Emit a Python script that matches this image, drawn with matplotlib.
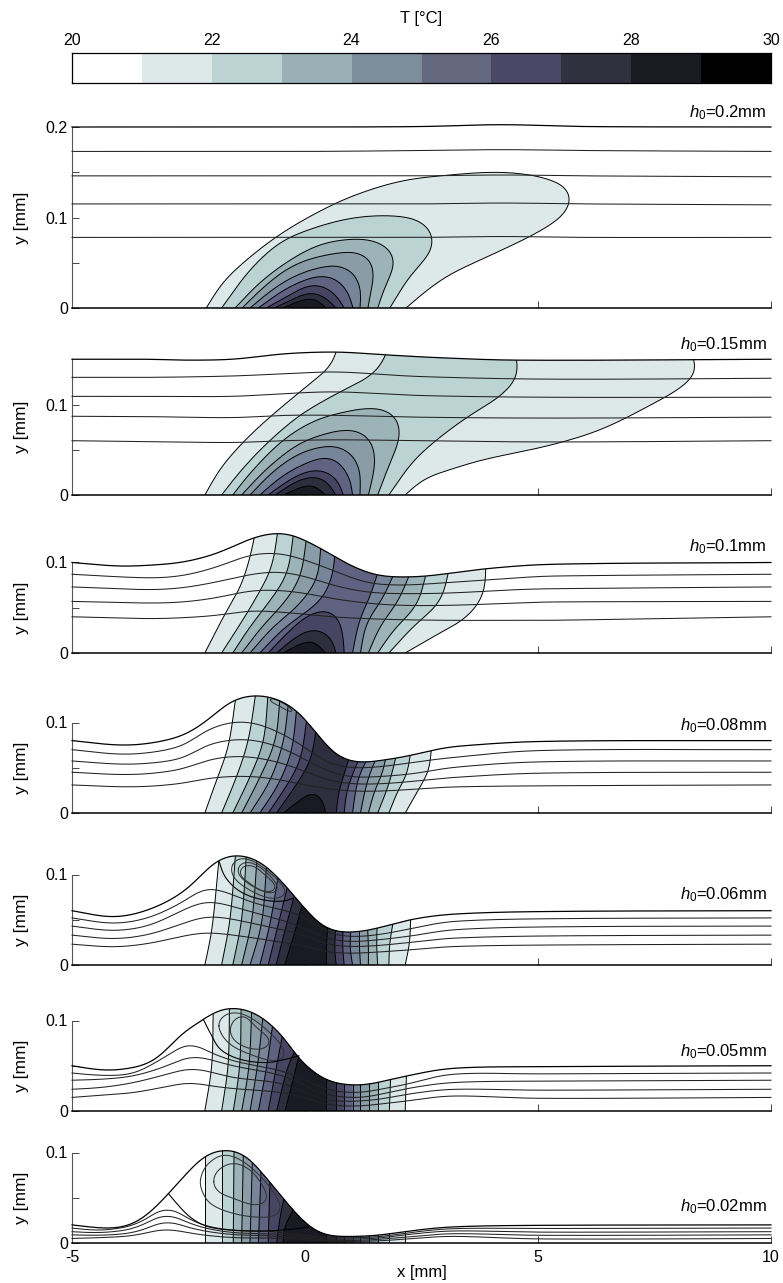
import numpy as np
import matplotlib
matplotlib.use("Agg")
import matplotlib.pyplot as plt
from matplotlib.patches import Polygon
from matplotlib.colors import ListedColormap

plt.rcParams['font.family'] = ['Liberation Sans', 'DejaVu Sans']
plt.rcParams['mathtext.fontset'] = 'custom'
plt.rcParams['mathtext.rm'] = 'Liberation Sans'
plt.rcParams['mathtext.it'] = 'Liberation Sans:italic'

W, H = 783, 1283
LEVELS = list(range(20, 31))
BAND_COLORS = ['#ffffff', '#dde9e8', '#bcd3d4', '#9ab0b6', '#7d8d9c', '#63687f', '#4b4865', '#30303f', '#1a1a22', '#000000']
FILL_COLORS = ['#dde9e8', '#bcd3d4', '#9cb3b8', '#8a9ca6', '#77859a', '#5f6280', '#474563', '#2e2e3e', '#1a1a24']
CBAR_TICKS = [20, 22, 24, 26, 28, 30]
LABELS = ['0.2', '0.15', '0.1', '0.08', '0.06', '0.05', '0.02']

# ---------- panel h0=0.2 ----------
P1_SX = [-5, 0, 2.5, 4.2, 6, 10]
P1_SY = [.2, .2, .2005, .2026, .2005, .2]
P1_LX = [-5, 0, 2.5, 4.2, 6, 10]
P1_LINES = [[.173, .173, .174, .175, .174, .173], [.146, .146, .146, .147, .146, .145],
            [.115, .115, .115, .116, .115, .114], [.078, .078, .078, .079, .078, .078]]
P1_ISO = [
    [(-2.12,0),(-1.77,.0276),(-1.29,.0516),(-.61,.0788),(.11,.1013),(.97,.1227),(2.04,.14),(3.11,.147),(4.18,.15),(5.04,.145),(5.58,.134),(5.71,.123),(5.58,.105),(5.04,.085),(4.18,.063),(3.11,.037),(2.58,.018),(2.17,0)],
    [(-1.79,0),(-1.18,.042),(-.54,.072),(.11,.087),(.97,.099),(1.82,.102),(2.47,.096),(2.75,.079),(2.68,.061),(2.25,.035),(1.82,0)],
    [(-1.5,0),(-.97,.028),(-.32,.053),(.32,.07),(.97,.076),(1.5,.074),(1.88,.061),(1.91,.046),(1.72,.024),(1.56,0)],
    [(-1.35,0),(-.8,.027),(-.25,.047),(.4,.058),(1.18,.061),(1.47,.046),(1.42,.02),(1.35,0)],
    [(-1.18,0),(-.6,.024),(0,.04),(.75,.047),(1.1,.035),(1.2,.02),(1.18,0)],
    [(-1.0,0),(-.45,.02),(0,.031),(.43,.036),(.8,.027),(.97,.012),(1.03,0)],
    [(-.83,0),(-.3,.015),(.16,.026),(.6,.018),(.84,0)],
    [(-.66,0),(-.2,.011),(.11,.017),(.45,.011),(.66,0)],
    [(-.47,0),(-.1,.008),(.1,.01),(.3,.007),(.45,0)],
]

# ---------- panel h0=0.15 ----------
P2_SX = [-5, -3.33, -2.61, -1.54, -.46, .68, 1.68, 2.75, 4.54, 10]
P2_SY = [.15, .15, .149, .15, .156, .158, .155, .152, .149, .15]
P2_LX = [-5, -3.33, -1.54, -.46, .68, 2.4, 5.26, 10]
P2_LINES = [[.13, .13, .1315, .134, .136, .131, .128, .129], [.109, .109, .109, .112, .114, .11, .108, .108],
            [.087, .0866, .0855, .088, .088, .086, .085, .086], [.06, .059, .058, .06, .061, .06, .0586, .06]]
P2_ISO = [
    ([(-2.15,0),(-1.79,.031),(-1.18,.066),(-.46,.099),(.25,.129),(.57,.144),(.69,.162)],
     [(2.15,0),(2.54,.017),(3.11,.028),(3.83,.039),(5.26,.055),(6.33,.072),(7.4,.099),(8.15,.122),(8.41,.14),(8.3,.155)]),
    ([(-1.79,0),(-1.39,.026),(-.82,.057),(-.11,.088),(.68,.112),(1.32,.129),(1.61,.142),(1.77,.16)],
     [(1.8,0),(2.32,.037),(2.9,.064),(3.54,.088),(4.18,.109),(4.51,.127),(4.58,.138),(4.53,.152)]),
    [(-1.55,0),(-1.18,.024),(-.46,.061),(.25,.083),(.97,.093),(1.39,.096),(1.82,.092),(2.02,.079),(2.02,.061),(1.82,.035),(1.56,0)],
    [(-1.36,0),(-.82,.029),(-.11,.057),(.61,.07),(.97,.072),(1.32,.066),(1.5,.046),(1.47,.024),(1.36,0)],
    [(-1.18,0),(-.68,.026),(-.11,.046),(.46,.054),(.82,.052),(1.14,.035),(1.19,.017),(1.18,0)],
    [(-.97,0),(-.46,.022),(.11,.037),(.54,.042),(.82,.031),(1.0,.013),(1.02,0)],
    [(-.79,0),(-.32,.017),(.11,.027),(.46,.026),(.72,.015),(.82,0)],
    [(-.64,0),(-.18,.015),(.18,.02),(.46,.015),(.66,0)],
    [(-.46,0),(-.11,.008),(.18,.01),(.44,0)],
]

# ---------- panel h0=0.1 ----------
P3_SX = [-5, -4, -3.33, -2.61, -1.9, -1.07, -.57, -.25, .32, .97, 1.54, 2.04, 2.61, 3.86, 5.26, 10]
P3_SY = [.1, .096, .097, .1005, .11, .128, .1326, .13, .116, .097, .086, .084, .085, .093, .098, .1]
P3_LX = [-5, -3.33, -2.61, -1.9, -1.18, -.57, .04, .61, 1.32, 2.04, 3.11, 4.54, 5.26, 10]
P3_LINES = [[.087, .083, .0857, .095, .108, .11, .102, .091, .078, .075, .078, .083, .085, .087],
            [.073, .07, .0722, .0785, .0866, .0895, .084, .0748, .0674, .0656, .0663, .07, .071, .073],
            [.057, .0552, .0564, .0611, .0685, .0692, .0656, .06, .0552, .0527, .0527, .0552, .0564, .057],
            [.04, .038, .039, .0416, .0464, .0453, .0427, .0398, .038, .0368, .0361, .0361, .0361, .04]]
P3_ISO = [
    ([(-2.15,0),(-1.72,.043),(-1.39,.073),(-1.18,.106),(-1.06,.135)], [(2.15,0),(2.75,.018),(3.47,.04),(3.83,.066),(3.88,.1)]),
    ([(-1.79,0),(-1.39,.032),(-1.04,.062),(-.72,.095),(-.57,.14)], [(1.8,0),(2.32,.029),(2.9,.058),(3.1,.095)]),
    ([(-1.55,0),(-1.18,.029),(-.75,.058),(-.39,.088),(-.24,.135)], [(1.56,0),(1.9,.025),(2.4,.054),(2.61,.09)]),
    ([(-1.36,0),(-.89,.031),(-.46,.055),(-.11,.084),(.04,.13)], [(1.36,0),(1.61,.029),(2.0,.058),(2.27,.09)]),
    ([(-1.18,0),(-.68,.029),(-.18,.051),(.25,.082),(.34,.12)], [(1.19,0),(1.32,.032),(1.68,.062),(1.93,.09)]),
    ([(-.97,0),(-.46,.027),(-.04,.043),(.39,.062),(.61,.091),(.64,.11)], [(1.02,0),(1.17,.036),(1.39,.062),(1.57,.09)]),
    [(-.79,0),(-.32,.025),(.11,.043),(.46,.047),(.68,.042),(.82,.018),(.84,0)],
    [(-.61,0),(-.18,.018),(.18,.026),(.46,.021),(.61,.012),(.66,0)],
    [(-.46,0),(-.11,.0096),(.18,.012),(.44,0)],
]

# ---------- panel h0=0.08 ----------
P4_SX = [-5, -4, -3.33, -2.61, -2.11, -1.54, -1.04, -.61, -.18, .25, .68, 1.11, 1.54, 2.11, 2.72, 3.11, 5, 10]
P4_SY = [.08, .075, .077, .086, .102, .1245, .13, .126, .113, .088, .064, .056, .0575, .062, .069, .073, .079, .08]
P4_LX = [-5, -4, -3.33, -2.61, -2.11, -1.54, -1.04, -.46, .04, .46, .97, 1.68, 2.4, 3.11, 5, 10]
P4_LINES = [[.07, .065, .0667, .0748, .0913, .1005, .0987, .0866, .071, .0564, .05, .0515, .0565, .061, .069, .07],
            [.0575, .054, .055, .061, .0748, .081, .08, .071, .058, .047, .04, .0405, .044, .05, .0565, .0575],
            [.045, .0425, .0435, .049, .058, .0626, .061, .0545, .045, .037, .0324, .0324, .0354, .039, .044, .045],
            [.031, .029, .0295, .033, .038, .0405, .04, .036, .0306, .027, .0243, .0243, .0265, .0287, .03, .031]]
P4_ISO = [
    ([(-2.15,0),(-1.9,.036),(-1.65,.073),(-1.48,.13)], [(2.15,0),(2.47,.029),(2.65,.047),(2.72,.075)]),
    ([(-1.79,0),(-1.47,.04),(-1.22,.08),(-1.05,.135)], [(1.8,0),(2.0,.025),(2.18,.043),(2.27,.068)]),
    ([(-1.55,0),(-1.18,.04),(-.89,.08),(-.79,.135)], [(1.56,0),(1.75,.025),(1.86,.043),(1.97,.066)]),
    ([(-1.36,0),(-1.0,.036),(-.64,.08),(-.54,.125)], [(1.36,0),(1.5,.025),(1.65,.043),(1.74,.062)]),
    ([(-1.18,0),(-.75,.036),(-.46,.08),(-.36,.12)], [(1.19,0),(1.29,.025),(1.39,.043),(1.54,.062)]),
    ([(-.97,0),(-.57,.032),(-.29,.069),(-.18,.115)], [(1.02,0),(1.09,.025),(1.18,.043),(1.36,.062)]),
    ([(-.79,0),(-.46,.025),(-.11,.058),(.04,.105)], [(.84,0),(.89,.021),(1.0,.04),(1.18,.062)]),
    ([(-.61,0),(-.18,.032),(.11,.058),(.25,.095)], [(.67,0),(.72,.021),(.82,.04),(.97,.064)]),
    [(-.46,0),(-.11,.014),(.18,.022),(.39,.012),(.44,0)],
]
P4_LOOPS = [[(-.79,.126),(-.57,.119),(-.25,.111),(-.39,.119),(-.61,.125)]]

# ---------- panel h0=0.06 ----------
P5_SX = [-5, -4.1, -3.33, -2.61, -1.86, -1.43, -.97, -.46, -.04, .46, .97, 1.54, 2.25, 3.11, 5, 10]
P5_SY = [.06, .053, .0615, .081, .116, .1215, .114, .09, .0645, .0405, .036, .0405, .05, .056, .059, .06]
P5_LX = [-5, -4.1, -3.33, -2.61, -2.11, -1.54, -1.04, -.46, .04, .46, .97, 1.68, 2.4, 3.11, 5, 10]
P5_LINES = [[.052, .046, .0527, .07, .0847, .0773, .0674, .0608, .0516, .0368, .0313, .0343, .0416, .0479, .051, .052],
            [.043, .038, .044, .0608, .07, .0645, .057, .049, .0394, .0295, .0258, .0284, .033, .0387, .042, .043],
            [.033, .029, .034, .046, .0534, .0505, .045, .0387, .032, .0232, .0203, .022, .0258, .0295, .032, .033],
            [.023, .02, .024, .032, .0357, .033, .0295, .0247, .0203, .0147, .0129, .0147, .0173, .0203, .022, .023]]
P5_ISO = [
    ([(-2.15,0),(-2.0,.0387),(-1.84,.12)], [(2.15,0),(2.24,.024),(2.27,.055)]),
    ([(-1.79,0),(-1.61,.05),(-1.48,.13)], [(1.8,0),(1.82,.024),(1.9,.05)]),
    ([(-1.55,0),(-1.36,.05),(-1.25,.13)], [(1.56,0),(1.54,.02),(1.55,.05)]),
    ([(-1.36,0),(-1.14,.05),(-1.02,.125)], [(1.36,0),(1.36,.02),(1.34,.045)]),
    ([(-1.18,0),(-.93,.046),(-.82,.115)], [(1.19,0),(1.17,.02),(1.17,.045)]),
    ([(-.97,0),(-.75,.046),(-.57,.1)], [(1.02,0),(.97,.02),(.99,.045)]),
    ([(-.79,0),(-.57,.046),(-.36,.09)], [(.84,0),(.81,.02),(.82,.045)]),
    ([(-.62,0),(-.39,.046),(-.21,.08)], [(.67,0),(.64,.0166),(.66,.045)]),
    ([(-.44,0),(-.25,.031),(-.04,.07)], [(.46,0),(.46,.02),(.5,.05)]),
]
P5_LOOPS = [[(-1.57,.1105),(-1.36,.118),(-.97,.1105),(-.46,.0866),(-.43,.0773),(-.75,.0737),(-1.25,.0847),(-1.54,.0976)],
            [(-1.45,.1068),(-1.25,.114),(-.89,.105),(-.57,.0847),(-.72,.0792),(-1.11,.0866),(-1.39,.0976)],
            [(-1.41,.103),(-1.18,.1105),(-.82,.0976),(-.62,.0847),(-.86,.081),(-1.18,.09)]]
P5_SEP = [(-1.84,.114),(-1.72,.0976),(-1.39,.081),(-.89,.0718),(-.45,.0705),(-.27,.0735)]

# ---------- panel h0=0.05 ----------
P6_SX = [-5, -4.4, -4.04, -3.68, -3.32, -2.97, -2.61, -2.18, -1.9, -1.54, -1.18, -.82, -.46, -.11, .25, .61, 1.18, 1.54, 2.18, 3.11, 5, 10]
P6_SY = [.05, .0453, .0453, .048, .0534, .068, .0866, .101, .1105, .114, .1105, .0994, .081, .057, .0405, .0313, .0284, .0313, .0387, .047, .049, .05]
P6_LX = [-5, -4.4, -3.68, -2.97, -2.47, -2.11, -1.54, -.82, -.25, .25, .61, 1.18, 1.68, 2.18, 3.11, 5, 10]
P6_LINES = [[.042, .0394, .0416, .0608, .0745, .0663, .0553, .0479, .0405, .0276, .0221, .0203, .0247, .0295, .0405, .041, .042],
            [.034, .035, .0387, .0497, .06, .0578, .0497, .0431, .035, .021, .0166, .0147, .0192, .0247, .0313, .033, .034],
            [.024, .0258, .0313, .0405, .0468, .0442, .0368, .0331, .0269, .0147, .011, .011, .0136, .0184, .0239, .023, .024],
            [.015, .0173, .0203, .0269, .0313, .0284, .0247, .0221, .0184, .0099, .0063, .0055, .0081, .011, .0166, .014, .015]]
P6_ISO = [
    ([(-2.15,0),(-2.0,.05),(-1.97,.115)], [(2.15,0),(2.18,.045)]),
    ([(-1.79,0),(-1.65,.05),(-1.62,.12)], [(1.81,0),(1.84,.04)]),
    ([(-1.54,0),(-1.4,.05),(-1.37,.12)], [(1.57,0),(1.57,.04)]),
    ([(-1.36,0),(-1.2,.05),(-1.14,.12)], [(1.37,0),(1.37,.04)]),
    ([(-1.18,0),(-1.02,.05),(-.89,.11)], [(1.19,0),(1.19,.04)]),
    ([(-1.0,0),(-.82,.05),(-.68,.1)], [(1.02,0),(1.02,.04)]),
    ([(-.79,0),(-.61,.05),(-.46,.09)], [(.84,0),(.84,.04)]),
    ([(-.61,0),(-.36,.05),(-.18,.07)], [(.67,0),(.67,.04)]),
    ([(-.43,0),(-.29,.0276),(-.11,.065)], [(.45,0),(.45,.04)]),
]
P6_LOOPS = [[(-1.86,.094),(-1.75,.105),(-1.47,.1087),(-1.11,.1013),(-.61,.079),(-.43,.0626),(-.61,.0553),(-1.18,.0626),(-1.65,.0755)],
            [(-1.61,.09),(-1.54,.0994),(-1.32,.105),(-1.04,.0921),(-.75,.0773),(-.89,.0689),(-1.25,.07),(-1.54,.0792)]]
P6_SEP = [(-2.18,.101),(-2.0,.083),(-1.82,.068),(-1.39,.057),(-.82,.0534),(-.43,.057),(-.13,.061)]

# ---------- panel h0=0.02 ----------
P7_SX = [-5, -4.4, -4.04, -3.68, -3.32, -2.93, -2.61, -2.18, -1.9, -1.65, -1.32, -.97, -.61, -.25, .11, .46, 1.18, 1.68, 2.18, 3.11, 5, 10]
P7_SY = [.02, .0166, .0166, .0214, .0343, .0545, .0729, .095, .1017, .103, .098, .0803, .0582, .0361, .0177, .0085, .0074, .0092, .0129, .0177, .0195, .02]
P7_LX = [-5, -4.4, -3.68, -3.32, -2.97, -2.68, -2.25, -1.54, -.82, -.39, .04, .46, 1.18, 1.68, 2.18, 3.11, 5, 10]
P7_LINES = [[.0165, .014, .0195, .0295, .039, .0324, .0206, .014, .0133, .011, .0085, .0059, .0059, .0074, .011, .0158, .016, .0165],
            [.0125, .0114, .0158, .0243, .0317, .0262, .0177, .0114, .0103, .0092, .0066, .0044, .0044, .0059, .0092, .0133, .012, .0125],
            [.009, .0085, .0114, .0177, .0243, .0199, .014, .0092, .0081, .0066, .0052, .0029, .0029, .0044, .0066, .0103, .0085, .009],
            [.005, .0059, .0081, .0122, .0155, .0129, .0092, .0059, .0055, .0048, .0037, .0018, .0018, .0026, .0044, .0074, .0045, .005]]
P7_ISO = [
    ([(-2.15,0),(-2.15,.11)], [(2.15,0),(2.15,.03)]),
    ([(-1.79,0),(-1.79,.12)], [(1.81,0),(1.81,.03)]),
    ([(-1.54,0),(-1.52,.12)], [(1.57,0),(1.57,.03)]),
    ([(-1.36,0),(-1.32,.11)], [(1.37,0),(1.37,.03)]),
    ([(-1.18,0),(-1.12,.11)], [(1.19,0),(1.19,.03)]),
    ([(-1.0,0),(-.93,.1)], [(1.02,0),(1.02,.03)]),
    ([(-.79,0),(-.74,.09)], [(.84,0),(.84,.03)]),
    ([(-.61,0),(-.56,.02),(-.47,.045),(-.36,.065)], [(.67,0),(.67,.03)]),
    ([(-.47,0),(-.43,.018),(-.32,.03),(-.17,.045)], [(.45,0),(.45,.03)]),
]
P7_LOOPS = [[(-2.25,.0697),(-2.11,.086),(-1.75,.0972),(-1.32,.0898),(-.82,.0659),(-.54,.0438),(-.57,.0327),(-.9,.0283),(-1.54,.0327),(-2.04,.0438),(-2.22,.0586)],
            [(-1.97,.0678),(-1.86,.0807),(-1.54,.0881),(-1.18,.0807),(-.9,.0623),(-.82,.0475),(-1.07,.042),(-1.54,.0494),(-1.86,.0567)]]
P7_SEP = [(-2.93,.0545),(-2.75,.0435),(-2.47,.0287),(-2.11,.0184),(-1.54,.014),(-.82,.0133),(-.18,.0158),(.07,.0177)]

# layout (pixels)
X_LEFT, X_RIGHT = 72, 771
PX_PER_Y = 905.0
BASE_PX = [308, 495, 653, 813, 965, 1111, 1243]
YTOP = [.2, .15, .1, .1, .1, .1, .1]
LABEL_PX = [113, 345, 547, 726, 895, 1052, 1207]

PANELS = [
    (P1_SX, P1_SY, P1_LX, P1_LINES, P1_ISO, [], None),
    (P2_SX, P2_SY, P2_LX, P2_LINES, P2_ISO, [], None),
    (P3_SX, P3_SY, P3_LX, P3_LINES, P3_ISO, [], None),
    (P4_SX, P4_SY, P4_LX, P4_LINES, P4_ISO, P4_LOOPS, None),
    (P5_SX, P5_SY, P5_LX, P5_LINES, P5_ISO, P5_LOOPS, P5_SEP),
    (P6_SX, P6_SY, P6_LX, P6_LINES, P6_ISO, P6_LOOPS, P6_SEP),
    (P7_SX, P7_SY, P7_LX, P7_LINES, P7_ISO, P7_LOOPS, P7_SEP),
]

ASPECT = PX_PER_Y / 46.6
SCALE_PX = 46.6


def smooth(pts, closed=False, n=10, win_px=14):
    """Round a hand-read polyline for drawing: Hermite segments, then a light running mean along its length."""
    p = np.asarray(pts, float) * [1, ASPECT]
    if closed:
        p = np.vstack([p[-1], p, p[0], p[1]])
    else:
        p = np.vstack([2 * p[0] - p[1], p, 2 * p[-1] - p[-2]])
    out = []
    for i in range(1, len(p) - 2):
        p0, p1, p2, p3 = p[i - 1], p[i], p[i + 1], p[i + 2]
        d = np.linalg.norm(p2 - p1)
        t1 = p2 - p0
        t2 = p3 - p1
        t1 = t1 / max(np.linalg.norm(t1), 1e-9) * d
        t2 = t2 / max(np.linalg.norm(t2), 1e-9) * d
        s = np.linspace(0, 1, n, endpoint=False)[:, None]
        out.append((2*s**3-3*s**2+1)*p1 + (s**3-2*s**2+s)*t1 + (-2*s**3+3*s**2)*p2 + (s**3-s**2)*t2)
    out.append(p[-2][None])
    c = np.vstack(out)
    seg = np.hypot(*np.diff(c, axis=0).T)
    arc = np.r_[0, np.cumsum(seg)]
    m = max(int(arc[-1] * SCALE_PX), 4)
    a = np.linspace(0, arc[-1], m)
    c = np.c_[np.interp(a, arc, c[:, 0]), np.interp(a, arc, c[:, 1])]
    w = int(min(win_px, m / 7))
    if w >= 2:
        if closed:
            ext = np.vstack([c[-w-1:-1], c, c[1:w+1]])
        else:
            ext = np.vstack([2 * c[0] - c[w:0:-1], c, 2 * c[-1] - c[-2:-w-2:-1]])
        kern = np.ones(2 * w + 1) / (2 * w + 1)
        c = np.c_[np.convolve(ext[:, 0], kern, 'valid'), np.convolve(ext[:, 1], kern, 'valid')]
    return c / [1, ASPECT]


fig = plt.figure(figsize=(W / 100, H / 100), dpi=100)

# colour bar
cax = fig.add_axes([X_LEFT / W, 1 - 83 / H, (X_RIGHT - X_LEFT) / W, 30 / H])
cax.pcolormesh(LEVELS, [0, 1], np.array([LEVELS[:-1]]), cmap=ListedColormap(BAND_COLORS),
               vmin=20, vmax=30, shading='flat')
cax.set_yticks([])
cax.xaxis.tick_top()
cax.set_xticks(CBAR_TICKS)
cax.tick_params(axis='x', length=0, pad=3.5, labelsize=11.5)
for s in cax.spines.values():
    s.set_linewidth(0.9)
cax.set_xlabel('T [°C]', fontsize=12, labelpad=7)
cax.xaxis.set_label_position('top')

for k, (sx, sy, lx, lines, iso, loops, sep) in enumerate(PANELS):
    base, top = BASE_PX[k], YTOP[k]
    hgt = top * PX_PER_Y
    ax = fig.add_axes([X_LEFT / W, 1 - base / H, (X_RIGHT - X_LEFT) / W, hgt / H])
    ax.set_xlim(-5, 10)
    ax.set_ylim(0, top)
    ax.patch.set_alpha(0)
    surf = smooth(list(zip(sx, sy)))
    film = Polygon(np.vstack([surf, [[10, 0], [-5, 0]]]), closed=True, fc='none', ec='none', transform=ax.transData)
    ax.add_patch(film)
    film.set_clip_on(False)
    for j, entry in enumerate(iso):
        col = FILL_COLORS[j]
        if isinstance(entry, tuple):
            l, r = smooth(entry[0]), smooth(entry[1])
            poly = np.vstack([l, [[l[-1, 0], .3], [r[-1, 0], .3]], r[::-1]])
            curves = [l, r]
        else:
            c = smooth(entry)
            poly = c
            curves = [c]
        pg = Polygon(poly, closed=True, fc=col, ec='none', zorder=2 + j * 0.1)
        ax.add_patch(pg)
        pg.set_clip_path(film)
        pg.set_clip_box(None)
        for c in curves:
            ln, = ax.plot(c[:, 0], c[:, 1], color='k', lw=0.7, zorder=2.05 + j * 0.1)
            ln.set_clip_path(film)
            ln.set_clip_box(None)
    for yy in lines:
        c = smooth(list(zip(lx, yy)))
        ax.plot(c[:, 0], c[:, 1], color='#222222', lw=0.75, zorder=4, clip_on=False)
    for lp in loops:
        c = smooth(lp, closed=True, win_px=6)
        ax.plot(c[:, 0], c[:, 1], color='#333333', lw=0.75, zorder=4, clip_on=False)
    if sep is not None:
        c = smooth(sep, win_px=6)
        ax.plot(c[:, 0], c[:, 1], color='k', lw=0.8, zorder=4, clip_on=False)
    ax.plot(surf[:, 0], surf[:, 1], color='k', lw=0.9, zorder=5, clip_on=False)

    for s in ('top', 'right'):
        ax.spines[s].set_visible(False)
    ax.spines['left'].set_color('#555555')
    ax.spines['left'].set_linewidth(0.8)
    ax.spines['bottom'].set_linewidth(1.1)
    ax.spines['bottom'].set_zorder(6)
    ax.set_xticks([-5, 0, 5, 10])
    if k == len(PANELS) - 1:
        ax.set_xticklabels(['-5', '0', '5', '10'])
        ax.set_xlabel('x [mm]', fontsize=12, labelpad=0)
    else:
        ax.set_xticklabels([])
    if top >= .2:
        ax.set_yticks([0, .05, .1, .15, .2], ['0', '', '0.1', '', '0.2'])
    else:
        ax.set_yticks([0, .05, .1], ['0', '', '0.1'])
    ax.tick_params(axis='both', direction='in', length=5, width=0.7, color='#444444', labelsize=11.5, pad=3)
    ax.tick_params(axis='x', pad=5)
    ax.set_ylabel('y [mm]', fontsize=12.5, va='center')
    ax.yaxis.set_label_coords(-50 / (X_RIGHT - X_LEFT), 0.5, transform=ax.transAxes)
    fig.text(767 / W, 1 - LABEL_PX[k] / H, f'$\\mathit{{h}}_0$={LABELS[k]}mm', ha='right', va='center', fontsize=12)

fig.savefig('out.png', dpi=100)
